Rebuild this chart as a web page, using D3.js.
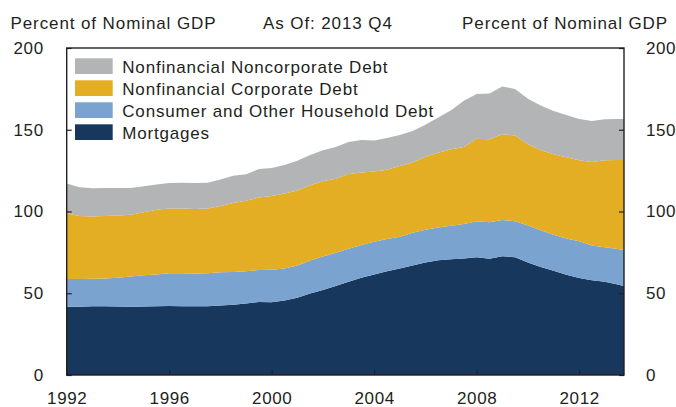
<!DOCTYPE html>
<html>
<head>
<meta charset="utf-8">
<script src="https://cdn.jsdelivr.net/npm/d3@7"></script>
<style>
    body { margin: 0; background: #fff; }
    svg text { font-family: "Liberation Sans", Arial, Helvetica, sans-serif; fill: #231f20; }
</style>
</head>
<body>
<svg id="chart" width="676" height="407"></svg>
<script>
// quarters (half-year steps, last point is 2013 Q4)
var years = [1992.0, 1992.5, 1993.0, 1993.5, 1994.0, 1994.5, 1995.0, 1995.5, 1996.0, 1996.5,
    1997.0, 1997.5, 1998.0, 1998.5, 1999.0, 1999.5, 2000.0, 2000.5, 2001.0, 2001.5,
    2002.0, 2002.5, 2003.0, 2003.5, 2004.0, 2004.5, 2005.0, 2005.5, 2006.0, 2006.5,
    2007.0, 2007.5, 2008.0, 2008.5, 2009.0, 2009.5, 2010.0, 2010.5, 2011.0, 2011.5,
    2012.0, 2012.5, 2013.0, 2013.5, 2013.75];

var mortgages = [41.8, 41.8, 42.0, 42.1, 41.9, 41.8, 41.9, 42.0, 42.2, 42.1,
    42.0, 42.0, 42.5, 43.0, 43.8, 44.7, 44.5, 45.5, 47.2, 49.8,
    52.0, 54.5, 57.0, 59.5, 61.5, 63.5, 65.2, 67.0, 68.8, 70.2,
    70.8, 71.2, 72.0, 71.1, 72.7, 72.0, 68.8, 66.1, 63.8, 61.3,
    59.3, 57.9, 57.0, 55.3, 54.4];

var consumer = [16.9, 16.9, 16.8, 16.9, 17.6, 18.4, 19.1, 19.5, 20.0, 20.1,
    20.1, 20.2, 20.3, 20.0, 19.7, 19.5, 19.9, 19.7, 19.8, 20.2,
    20.5, 20.3, 20.2, 20.0, 20.0, 19.7, 19.4, 20.0, 20.0, 20.0,
    20.5, 21.1, 22.1, 22.3, 22.1, 22.0, 22.7, 22.4, 22.0, 22.2,
    22.5, 21.3, 21.1, 21.7, 22.1];

var corporate = [40.2, 38.5, 38.1, 38.3, 38.1, 37.8, 38.5, 39.5, 39.7, 39.6,
    39.4, 39.6, 40.6, 42.2, 43.0, 44.3, 45.1, 45.8, 45.8, 46.0,
    46.0, 45.2, 45.8, 44.3, 43.0, 42.3, 43.2, 43.0, 44.7, 45.8,
    46.7, 47.2, 50.4, 50.8, 52.4, 52.5, 49.7, 49.1, 49.2, 49.7,
    49.5, 51.0, 53.2, 54.5, 55.0];

var noncorporate = [18.3, 17.6, 17.3, 17.0, 16.8, 16.3, 16.0, 15.5, 15.5, 15.8,
    15.9, 15.8, 16.1, 16.6, 16.3, 17.5, 17.1, 17.5, 18.2, 18.5,
    19.0, 19.5, 19.5, 20.0, 19.0, 19.5, 19.0, 19.2, 19.5, 21.5,
    24.0, 28.3, 27.3, 28.0, 29.3, 28.5, 27.8, 27.2, 26.5, 25.8,
    25.3, 25.2, 25.1, 25.1, 25.1];

var seriesNames = ["Mortgages", "Consumer and Other Household Debt",
    "Nonfinancial Corporate Debt", "Nonfinancial Noncorporate Debt"];
var seriesColors = ["#18375d", "#7ba3cf", "#e3ae24", "#b3b4b6"];

var xTicks = [1992, 1996, 2000, 2004, 2008, 2012];
var yTicks = [0, 50, 100, 150, 200];

var svg = d3.select("#chart"),
    margins = {"left": 66.7, "right": 52, "top": 48, "bottom": 32},
    width = 676,
    height = 407;

var x = d3.scaleLinear().domain([1992, 2013.75]).range([margins.left, width - margins.right]),
    y = d3.scaleLinear().domain([0, 200]).range([height - margins.bottom, margins.top]);

var rows = years.map((yr, i) => ({
    year: yr,
    "Mortgages": mortgages[i],
    "Consumer and Other Household Debt": consumer[i],
    "Nonfinancial Corporate Debt": corporate[i],
    "Nonfinancial Noncorporate Debt": noncorporate[i]
}));

var stacked = d3.stack().keys(seriesNames)(rows);

var area = d3.area()
    .x(d => x(d.data.year))
    .y0(d => y(d[0]))
    .y1(d => y(d[1]));

svg.append("g").selectAll("path")
    .data(stacked)
    .enter().append("path")
    .attr("fill", (d, i) => seriesColors[i])
    .attr("d", area);

// axes, ticks pointing inward
var tickStyle = g => {
    g.select(".domain").remove();
    g.selectAll("line").attr("stroke", "#231f20").attr("stroke-width", 1.2);
    g.selectAll("text").style("font-size", "17px").style("letter-spacing", "0.6px")
        .attr("fill", "#231f20");
};

svg.append("g")
    .attr("transform", "translate(" + [0, y(0)] + ")")
    .call(d3.axisBottom(x).tickValues(xTicks).tickFormat(d3.format("d")).tickSizeInner(-5).tickPadding(17))
    .call(tickStyle);

svg.append("g")
    .attr("transform", "translate(" + [x.range()[0], 0] + ")")
    .call(d3.axisLeft(y).tickValues(yTicks).tickSizeInner(-5).tickPadding(23))
    .call(tickStyle);

svg.append("g")
    .attr("transform", "translate(" + [x.range()[1], 0] + ")")
    .call(d3.axisRight(y).tickValues(yTicks).tickSizeInner(-5).tickPadding(22))
    .call(tickStyle);

// frame
svg.append("rect")
    .attr("x", x.range()[0]).attr("y", y(200))
    .attr("width", x.range()[1] - x.range()[0]).attr("height", y(0) - y(200))
    .attr("fill", "none").attr("stroke", "#231f20").attr("stroke-width", 1.4);

// header texts
svg.append("text").attr("x", 10.5).attr("y", 29).text("Percent of Nominal GDP")
    .style("font-size", "17px").style("letter-spacing", "0.9px");
svg.append("text").attr("x", 263).attr("y", 29).text("As Of: 2013 Q4")
    .style("font-size", "17px").style("letter-spacing", "0.9px");
svg.append("text").attr("x", 668).attr("y", 29).text("Percent of Nominal GDP")
    .attr("text-anchor", "end").style("font-size", "17px").style("letter-spacing", "0.9px");

// legend, top entry is the top layer
var legend = svg.append("g").selectAll("g")
    .data(seriesNames.slice().reverse())
    .enter().append("g")
    .attr("transform", (d, i) => "translate(" + [75, 58.3 + i * 22] + ")");

legend.append("rect")
    .attr("width", 37.7).attr("height", 15.7)
    .attr("fill", d => seriesColors[seriesNames.indexOf(d)]);

legend.append("text")
    .attr("x", 47.3).attr("y", 14.4)
    .text(d => d)
    .style("font-size", "17px").style("letter-spacing", "0.8px");
</script>
</body>
</html>
